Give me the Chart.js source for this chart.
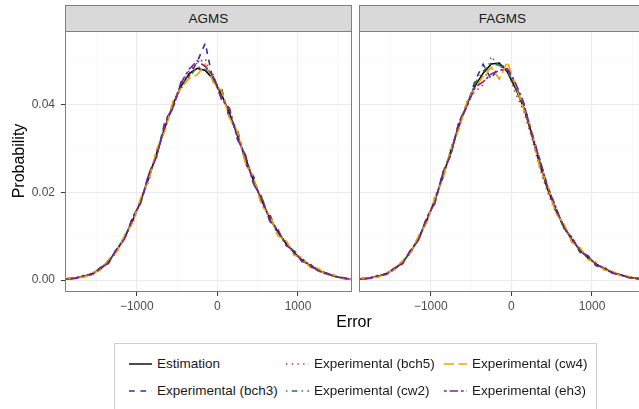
<!DOCTYPE html>
<html>
<head>
<meta charset="utf-8">
<script src="https://cdn.jsdelivr.net/npm/chart.js@4.4.1/dist/chart.umd.min.js"></script>
<style>
  html, body { margin: 0; padding: 0; background: #fff; }
  body { width: 639px; height: 409px; position: relative; overflow: hidden;
         font-family: "Liberation Sans", Arial, sans-serif; }
  canvas { position: absolute; }
  .box { position: absolute; box-sizing: border-box; }
  .strip { top: 5px; height: 27px; background: #D9D9D9; border: 1px solid #7F7F7F;
           font-size: 13.5px; color: #1A1A1A; text-align: center; line-height: 25px; }
  .panel { top: 31px; height: 261px; border: 1px solid #7F7F7F; pointer-events: none; }
  .title { position: absolute; font-size: 16px; color: #000; text-align: center; line-height: 20px; }
  .legend { left: 114px; top: 343px; width: 483px; height: 80px; border: 1px solid #CFCFCF; background: #fff; }
  .item { position: absolute; font-size: 13.5px; color: #1A1A1A; line-height: 16px; white-space: nowrap; }
</style>
</head>
<body>
<canvas id="agms" width="352" height="300" style="left:0;top:31px"></canvas>
<canvas id="fagms" width="287" height="300" style="left:359px;top:31px"></canvas>

<script>
// ---- data ----
const errors = [-1890, -1850, -1750, -1650, -1550, -1450, -1350, -1250, -1150, -1050, -950, -850,
  -750, -650, -550, -450, -350, -250, -150, -50, 50, 150, 250, 350, 450, 550, 650, 750, 850, 950,
  1050, 1150, 1250, 1350, 1450, 1550, 1650, 1670];

const agmsEstimation = [0.0002,0.0003,0.0005,0.0009,0.0015,0.0026,0.0043,0.0067,0.0098,0.0136,0.0181,0.0234,0.0291,0.0348,0.0401,0.0442,0.0471,0.0483,0.0478,0.0458,0.0424,0.0380,0.0329,0.0276,0.0226,0.0181,0.0142,0.0110,0.0084,0.0063,0.0046,0.0033,0.0023,0.0015,0.0009,0.0005,0.0002,0.0001];
const agmsBch3 = [0.0002,0.0004,0.0005,0.0010,0.0014,0.0029,0.0038,0.0072,0.0093,0.0144,0.0176,0.0243,0.0285,0.0362,0.0395,0.0452,0.0466,0.0498,0.0540,0.0452,0.0438,0.0368,0.0343,0.0265,0.0236,0.0172,0.0150,0.0104,0.0089,0.0058,0.0050,0.0030,0.0026,0.0013,0.0011,0.0004,0.0003,0.0001];
const agmsBch5 = [0.0002,0.0003,0.0006,0.0008,0.0017,0.0023,0.0046,0.0062,0.0103,0.0129,0.0186,0.0226,0.0298,0.0341,0.0410,0.0436,0.0478,0.0495,0.0505,0.0450,0.0430,0.0372,0.0336,0.0270,0.0231,0.0176,0.0146,0.0106,0.0088,0.0060,0.0049,0.0031,0.0025,0.0014,0.0010,0.0004,0.0003,0.0001];
const agmsCw2 = [0.0002,0.0003,0.0004,0.0010,0.0014,0.0028,0.0041,0.0070,0.0095,0.0140,0.0178,0.0240,0.0284,0.0355,0.0396,0.0448,0.0463,0.0487,0.0480,0.0468,0.0415,0.0390,0.0320,0.0285,0.0219,0.0188,0.0136,0.0115,0.0080,0.0067,0.0043,0.0036,0.0021,0.0017,0.0008,0.0006,0.0002,0.0001];
const agmsCw4 = [0.0002,0.0004,0.0006,0.0007,0.0016,0.0023,0.0047,0.0064,0.0102,0.0131,0.0188,0.0228,0.0300,0.0340,0.0408,0.0438,0.0460,0.0468,0.0492,0.0452,0.0432,0.0370,0.0338,0.0266,0.0234,0.0170,0.0148,0.0101,0.0092,0.0057,0.0052,0.0029,0.0027,0.0012,0.0011,0.0005,0.0002,0.0001];
const agmsEh3 = [0.0002,0.0003,0.0005,0.0011,0.0013,0.0027,0.0039,0.0071,0.0094,0.0143,0.0177,0.0242,0.0283,0.0358,0.0392,0.0450,0.0481,0.0500,0.0487,0.0464,0.0412,0.0392,0.0322,0.0284,0.0218,0.0190,0.0134,0.0116,0.0079,0.0068,0.0042,0.0037,0.0020,0.0017,0.0008,0.0006,0.0002,0.0001];

const fagmsEstimation = [0.0002,0.0003,0.0005,0.0009,0.0015,0.0025,0.0041,0.0064,0.0096,0.0136,0.0182,0.0236,0.0295,0.0352,0.0401,0.0443,0.0472,0.0493,0.0495,0.0475,0.0438,0.0395,0.0335,0.0265,0.0207,0.0160,0.0123,0.0092,0.0069,0.0051,0.0037,0.0026,0.0018,0.0012,0.0007,0.0004,0.0002,0.0001];
const fagmsBch3 = [0.0002,0.0004,0.0005,0.0010,0.0014,0.0028,0.0037,0.0069,0.0091,0.0143,0.0174,0.0246,0.0286,0.0362,0.0398,0.0455,0.0492,0.0458,0.0490,0.0485,0.0445,0.0404,0.0340,0.0276,0.0214,0.0166,0.0118,0.0097,0.0064,0.0055,0.0033,0.0029,0.0016,0.0013,0.0006,0.0004,0.0002,0.0001];
const fagmsBch5 = [0.0002,0.0003,0.0006,0.0008,0.0017,0.0023,0.0045,0.0060,0.0102,0.0130,0.0190,0.0229,0.0303,0.0345,0.0410,0.0430,0.0445,0.0510,0.0488,0.0478,0.0427,0.0386,0.0327,0.0256,0.0200,0.0154,0.0128,0.0088,0.0073,0.0048,0.0040,0.0024,0.0020,0.0011,0.0008,0.0003,0.0002,0.0001];
const fagmsCw2 = [0.0002,0.0003,0.0004,0.0010,0.0014,0.0027,0.0039,0.0067,0.0094,0.0140,0.0178,0.0241,0.0289,0.0358,0.0396,0.0450,0.0476,0.0494,0.0490,0.0478,0.0440,0.0400,0.0330,0.0272,0.0210,0.0162,0.0121,0.0096,0.0067,0.0053,0.0036,0.0027,0.0017,0.0012,0.0007,0.0004,0.0002,0.0001];
const fagmsCw4 = [0.0002,0.0004,0.0006,0.0007,0.0016,0.0024,0.0044,0.0063,0.0101,0.0131,0.0187,0.0230,0.0299,0.0345,0.0406,0.0439,0.0465,0.0485,0.0458,0.0498,0.0445,0.0392,0.0344,0.0258,0.0216,0.0152,0.0130,0.0086,0.0075,0.0047,0.0041,0.0023,0.0021,0.0010,0.0009,0.0003,0.0002,0.0001];
const fagmsEh3 = [0.0002,0.0003,0.0005,0.0011,0.0013,0.0027,0.0038,0.0068,0.0092,0.0142,0.0176,0.0244,0.0287,0.0360,0.0397,0.0440,0.0452,0.0470,0.0478,0.0482,0.0450,0.0406,0.0336,0.0276,0.0212,0.0167,0.0119,0.0098,0.0065,0.0056,0.0034,0.0029,0.0016,0.0013,0.0006,0.0005,0.0002,0.0001];

const seriesNames = ['Estimation', 'Experimental (bch3)', 'Experimental (bch5)',
                     'Experimental (cw2)', 'Experimental (cw4)', 'Experimental (eh3)'];
const seriesColors = ['#000000', '#3B2F8F', '#C8312C', '#1E7B3A', '#EBA300', '#7D1FA3'];
// R linetypes solid, dashed, dotted, dotdash, longdash, twodash
const seriesDash = [[], [5.7, 5.7], [1.4, 4.3], [1.4, 4.3, 5.7, 4.3], [10, 4.3], [2.8, 2.8, 8.5, 2.8]];

const panelTitles = ['AGMS', 'FAGMS'];
const xTickValues = [-1500, -1000, -500, 0, 500, 1000, 1500];
const xMajor = [-1000, 0, 1000];
const xMajorLabels = ['\u22121000', '0', '1000'];
const yTickValues = [0, 0.01, 0.02, 0.03, 0.04, 0.05];
const yMajor = [0, 0.02, 0.04];
const yMajorLabels = ['0.00', '0.02', '0.04'];

// ---- drawing ----
const FONT = 'Liberation Sans';
const majorIndex = (list, v) => list.findIndex(m => Math.abs(m - v) < 1e-9);

function gridOpts(major, showTicks) {
    const isMajor = c => majorIndex(major, c.tick.value) >= 0;
    return {
        color: c => isMajor(c) ? '#EBEBEB' : '#F5F5F5',
        lineWidth: c => isMajor(c) ? 1.1 : 0.6,
        drawTicks: showTicks,
        tickLength: 4,
        tickWidth: 1,
        tickColor: c => isMajor(c) ? '#333333' : 'rgba(0,0,0,0)',
    };
}

// no extra padding from tick labels: the chart area must fill the panel
function noPad(s) {
    s.paddingTop = 0; s.paddingBottom = 0; s.paddingLeft = 0; s.paddingRight = 0;
}

function makePanel(id, values, showY) {
    new Chart(document.getElementById(id), {
        type: 'line',
        data: {
            datasets: seriesNames.map((name, i) => ({
                label: name,
                data: errors.map((x, j) => ({ x, y: values[i][j] })),
                borderColor: seriesColors[i],
                borderDash: seriesDash[i],
                borderWidth: 1.6,
                borderCapStyle: 'butt',
                pointRadius: 0,
                tension: 0,
                fill: false,
                order: seriesNames.length - i,
            })),
        },
        options: {
            responsive: false,
            animation: false,
            devicePixelRatio: 1,
            layout: { padding: 0 },
            plugins: { legend: { display: false }, tooltip: { enabled: false } },
            scales: {
                x: {
                    type: 'linear', min: -1890, max: 1670,
                    afterBuildTicks: s => { s.ticks = xTickValues.map(v => ({ value: v })); },
                    afterFit: s => { s.height = 39; noPad(s); },
                    grid: gridOpts(xMajor, true),
                    border: { display: false },
                    ticks: {
                        autoSkip: false, maxRotation: 0, padding: 3,
                        color: '#4D4D4D', font: { family: FONT, size: 12 },
                        callback: v => { const k = majorIndex(xMajor, v); return k >= 0 ? xMajorLabels[k] : ''; },
                    },
                },
                y: {
                    type: 'linear', min: -0.0027, max: 0.0568,
                    afterBuildTicks: s => { s.ticks = yTickValues.map(v => ({ value: v })); },
                    afterFit: s => { s.width = showY ? 65 : 0; noPad(s); },
                    grid: gridOpts(yMajor, showY),
                    border: { display: false },
                    ticks: {
                        display: showY, padding: 6,
                        color: '#4D4D4D', font: { family: FONT, size: 12 },
                        callback: v => { const k = majorIndex(yMajor, v); return k >= 0 ? yMajorLabels[k] : ''; },
                    },
                },
            },
        },
    });
}

makePanel('agms', [agmsEstimation, agmsBch3, agmsBch5, agmsCw2, agmsCw4, agmsEh3], true);
makePanel('fagms', [fagmsEstimation, fagmsBch3, fagmsBch5, fagmsCw2, fagmsCw4, fagmsEh3], false);

// strips, panel borders, titles
const panelLeft = [65, 359];
panelTitles.forEach((t, i) => {
    const strip = document.createElement('div');
    strip.className = 'box strip';
    strip.style.left = panelLeft[i] + 'px';
    strip.style.width = '287px';
    strip.textContent = t;
    document.body.appendChild(strip);
    const border = document.createElement('div');
    border.className = 'box panel';
    border.style.left = panelLeft[i] + 'px';
    border.style.width = '287px';
    document.body.appendChild(border);
});

const yTitle = document.createElement('div');
yTitle.className = 'title';
yTitle.textContent = 'Probability';
Object.assign(yTitle.style, { left: '-41px', top: '151px', width: '120px', transform: 'rotate(-90deg)' });
document.body.appendChild(yTitle);

const xTitle = document.createElement('div');
xTitle.className = 'title';
xTitle.textContent = 'Error';
Object.assign(xTitle.style, { left: '304px', top: '312px', width: '100px' });
document.body.appendChild(xTitle);

// legend: 3 columns x 2 rows, filled column by column
const legend = document.createElement('div');
legend.className = 'box legend';
document.body.appendChild(legend);
const colX = [129, 286, 444];
const rowY = [364, 391];
seriesNames.forEach((name, i) => {
    const x = colX[Math.floor(i / 2)], y = rowY[i % 2];
    const item = document.createElement('div');
    item.className = 'item';
    item.style.left = x + 'px';
    item.style.top = (y - 8) + 'px';
    item.innerHTML =
        `<svg width="23" height="16" style="vertical-align:top;margin-right:5px">` +
        `<line x1="0" y1="8" x2="23" y2="8" stroke="${seriesColors[i]}" stroke-width="1.4" ` +
        `stroke-dasharray="${seriesDash[i].join(' ')}"/></svg>${name}`;
    document.body.appendChild(item);
});
</script>
</body>
</html>
